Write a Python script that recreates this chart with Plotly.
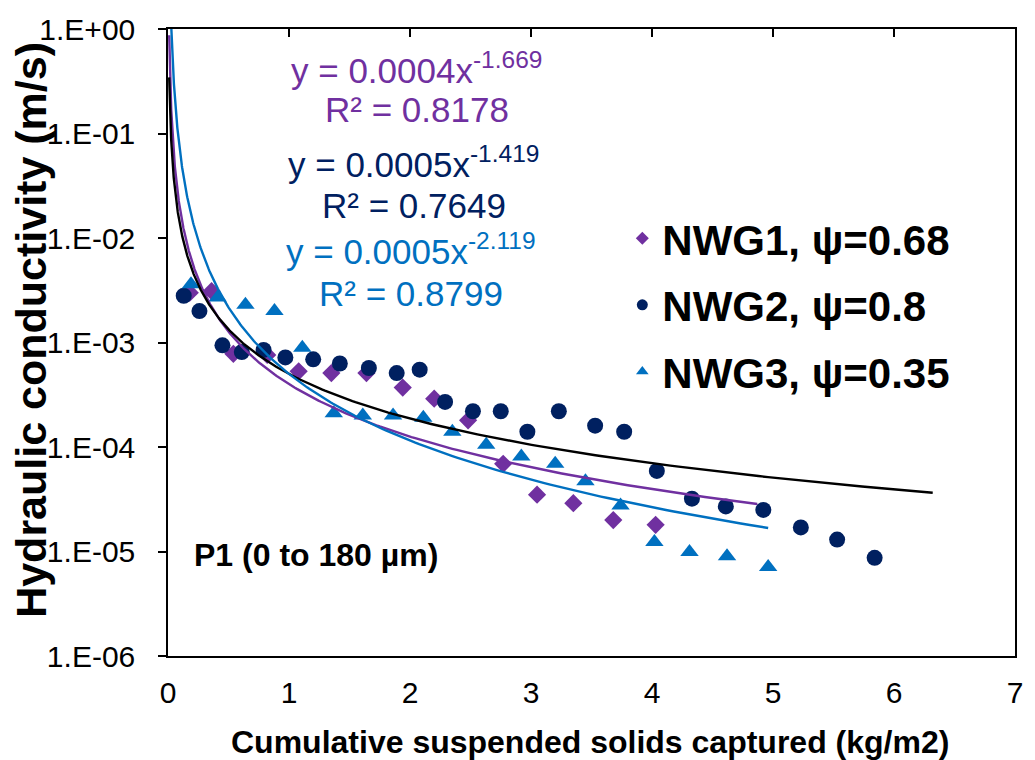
import numpy as np
import plotly.graph_objects as go

# ---- measured data: cumulative solids captured (kg/m2) vs hydraulic conductivity (m/s)
nwg1_x = [0.18, 0.36, 0.54, 0.82, 1.08, 1.35, 1.64, 1.94, 2.20, 2.48, 2.77, 3.05, 3.35, 3.68, 4.03]
nwg1_y = [3.0e-3, 3.1e-3, 7.8e-4, 7.6e-4, 5.3e-4, 5.1e-4, 5.1e-4, 3.7e-4, 2.9e-4, 1.8e-4,
          6.9e-5, 3.5e-5, 2.9e-5, 2.0e-5, 1.8e-5]

nwg2_x = [0.13, 0.26, 0.45, 0.61, 0.79, 0.97, 1.20, 1.42, 1.66, 1.89, 2.08, 2.29, 2.52,
          2.75, 2.97, 3.23, 3.53, 3.77, 4.04, 4.33, 4.61, 4.92, 5.23, 5.53, 5.84]
nwg2_y = [2.8e-3, 2.0e-3, 9.4e-4, 8.1e-4, 8.5e-4, 7.2e-4, 6.9e-4, 6.3e-4, 5.7e-4, 5.1e-4,
          5.5e-4, 2.7e-4, 2.2e-4, 2.2e-4, 1.4e-4, 2.2e-4, 1.6e-4, 1.4e-4, 5.9e-5, 3.2e-5,
          2.7e-5, 2.5e-5, 1.7e-5, 1.3e-5, 8.7e-6]

nwg3_x = [0.19, 0.41, 0.64, 0.88, 1.11, 1.37, 1.61, 1.86, 2.11, 2.35, 2.63, 2.92, 3.20,
          3.45, 3.74, 4.02, 4.31, 4.62, 4.96]
nwg3_y = [3.6e-3, 2.7e-3, 2.3e-3, 2.0e-3, 8.9e-4, 2.1e-4, 2.0e-4, 2.0e-4, 1.9e-4, 1.4e-4,
          1.05e-4, 8.1e-5, 6.9e-5, 4.7e-5, 2.75e-5, 1.23e-5, 9.9e-6, 9.0e-6, 7.1e-6]

series_names = ["NWG1, \u03c8=0.68", "NWG2, \u03c8=0.8", "NWG3, \u03c8=0.35"]

# ---- power-law trendlines  y = a * x^b
fit_a = [0.0004, 0.0005, 0.0005]
fit_b = [-1.669, -1.419, -2.119]
fit_r2 = ["0.8178", "0.7649", "0.8799"]
fit_x_start = [0.01, 0.01, 0.01]
fit_x_end = [4.87, 6.32, 4.96]

# ---- axis ticks
y_tickvals = [1e-6, 1e-5, 1e-4, 1e-3, 1e-2, 1e-1, 1e0]
y_ticktext = ["1.E-06", "1.E-05", "1.E-04", "1.E-03", "1.E-02", "1.E-01", "1.E+00"]
x_tickvals = [0, 1, 2, 3, 4, 5, 6, 7]

PURPLE = "#7030A0"
NAVY = "#002060"
BLUE = "#0070C0"
FONT = "Liberation Sans, Arial, sans-serif"

fig = go.Figure()

marker_styles = [
    dict(symbol="diamond", color=PURPLE),
    dict(symbol="circle", color=NAVY),
    dict(symbol="triangle-up", color=BLUE),
]
plot_sizes = [14, 16, 16]
legend_sizes = [10, 11, 11]
datasets = [(nwg1_x, nwg1_y), (nwg2_x, nwg2_y), (nwg3_x, nwg3_y)]

for i, (xs, ys) in enumerate(datasets):
    fig.add_trace(go.Scatter(
        x=xs, y=ys, mode="markers", name=series_names[i], showlegend=False,
        marker=dict(**marker_styles[i], size=plot_sizes[i], line=dict(width=0)),
    ))

line_colors = [PURPLE, "black", BLUE]
for i in range(3):
    tx = np.geomspace(fit_x_start[i], fit_x_end[i], 400)
    ty = fit_a[i] * tx ** fit_b[i]
    fig.add_trace(go.Scatter(
        x=tx, y=ty, mode="lines", showlegend=False, hoverinfo="skip",
        line=dict(color=line_colors[i], width=2.4),
    ))

# legend entries with the smaller key symbols
for i in range(3):
    fig.add_trace(go.Scatter(
        x=[None], y=[None], mode="markers", name=series_names[i],
        marker=dict(**marker_styles[i], size=legend_sizes[i], line=dict(width=0)),
        legendgroup=f"g{i}", legendrank=i + 1, hoverinfo="skip",
    ))

# top axis carrying the inward tick marks
fig.add_trace(go.Scatter(x=[], y=[], xaxis="x2", showlegend=False, hoverinfo="skip"))

# plot-area geometry in pixels, used to place annotations
L, R, T, B = 168, 1020, 27, 656
def px(xp):
    return (xp - L) / (R - L)
def py(yp):
    return (B - yp) / (B - T)

eq_colors = [PURPLE, NAVY, BLUE]
eq_centres = [(418, 66, 108), (415, 160, 204), (412, 248, 292)]
annotations = []
for i in range(3):
    cx, y1, y2 = eq_centres[i]
    annotations.append(dict(
        x=px(cx), y=py(y1), xref="paper", yref="paper", showarrow=False,
        xanchor="center", yanchor="middle",
        text=f"y = {fit_a[i]:g}x<sup>{fit_b[i]:.3f}</sup>",
        font=dict(family=FONT, size=35, color=eq_colors[i]),
    ))
    annotations.append(dict(
        x=px(cx), y=py(y2), xref="paper", yref="paper", showarrow=False,
        xanchor="center", yanchor="middle",
        text=f"R\u00b2 = {fit_r2[i]}",
        font=dict(family=FONT, size=35, color=eq_colors[i]),
    ))

annotations.append(dict(
    x=px(192), y=py(555), xref="paper", yref="paper", showarrow=False,
    xanchor="left", yanchor="middle", text="<b>P1 (0 to 180 \u00b5m)</b>",
    font=dict(family=FONT, size=32, color="black"),
))
annotations.append(dict(
    x=px(592), y=py(742), xref="paper", yref="paper", showarrow=False,
    xanchor="center", yanchor="middle",
    text="<b>Cumulative suspended solids captured (kg/m2)</b>",
    font=dict(family=FONT, size=32, color="black"),
))
annotations.append(dict(
    x=px(30), y=py(329), xref="paper", yref="paper", showarrow=False,
    xanchor="center", yanchor="middle", textangle=-90,
    text="<b>Hydraulic conductivity (m/s)</b>",
    font=dict(family=FONT, size=43, color="black"),
))

fig.update_layout(
    width=1035, height=760,
    margin=dict(l=L, r=1035 - R, t=T, b=760 - B),
    paper_bgcolor="white", plot_bgcolor="white",
    font=dict(family=FONT, color="black"),
    showlegend=True,
    legend=dict(
        x=px(625), y=py(203), xanchor="left", yanchor="top",
        font=dict(family=FONT, size=42, color="black", weight="bold"),
        bgcolor="rgba(0,0,0,0)", tracegroupgap=9,
    ),
    xaxis=dict(
        range=[0, 7], tickvals=x_tickvals, showgrid=False, zeroline=False,
        showline=True, linecolor="black", linewidth=1.5, mirror=True,
        ticks="", ticklabelstandoff=9,
        tickfont=dict(family=FONT, size=30, color="black"),
    ),
    xaxis2=dict(
        range=[0, 7], tickvals=x_tickvals, overlaying="x", side="top", anchor="y",
        showgrid=False, zeroline=False, showline=False, showticklabels=False,
        ticks="inside", ticklen=8, tickcolor="black", tickwidth=1.5,
    ),
    yaxis=dict(
        type="log", range=[-6, 0], tickvals=y_tickvals, ticktext=y_ticktext,
        showgrid=False, zeroline=False, showline=True, linecolor="black",
        linewidth=1.5, mirror=True, ticks="outside", ticklen=8, tickwidth=1.5,
        tickcolor="black", ticklabelstandoff=17,
        tickfont=dict(family=FONT, size=30, color="black"),
    ),
    annotations=annotations,
)

fig.write_html("out.html")
